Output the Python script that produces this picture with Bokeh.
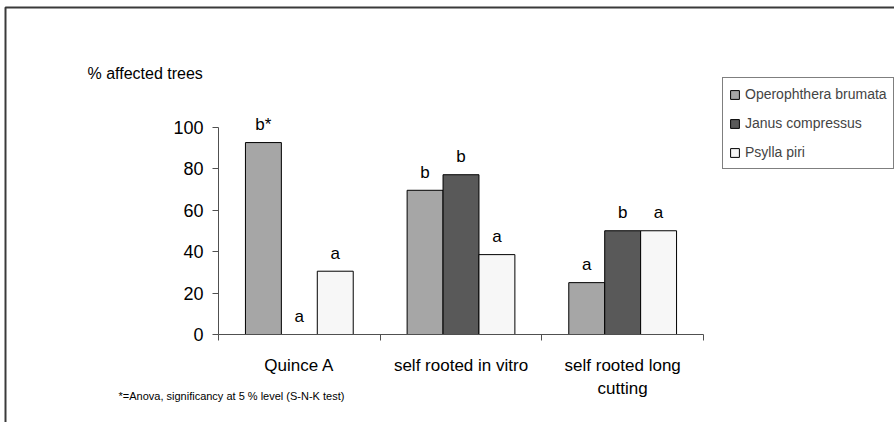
from bokeh.plotting import figure
from bokeh.models import (Range1d, FixedTicker, Label, Legend, LegendItem,
                          BoxAnnotation, ColumnDataSource, LinearAxis)
from bokeh.core.properties import value
from bokeh.embed import file_html
from bokeh.resources import INLINE
import numpy as np

# ---------------- data ----------------
categories = ["Quince A", "self rooted in vitro", "self rooted long\ncutting"]
series = ["Operophthera brumata", "Janus compressus", "Psylla piri"]
operophthera = [92.5, 69.5, 25.0]
janus = [0.0, 77.0, 50.0]
psylla = [30.5, 38.5, 50.0]
letters_operophthera = ["b*", "b", "a"]
letters_janus = ["a", "b", "b"]
letters_psylla = ["a", "a", "a"]
y_ticks = [0, 20, 40, 60, 80, 100]
y_title = "% affected trees"
footnote = "*=Anova, significancy at 5 % level (S-N-K test)"

# ---------------- layout (pixels) ----------------
FONT = "Liberation Sans"
colors = ["#a6a6a6", "#595959", "#f7f7f7"]
AX = "#505050"
W, H = 894, 422
PX_L, PX_R = 218, 703        # x axis extent on the page
PY0, PY100 = 334, 126.5      # y of value 0 and 100 on the page
ncat = len(categories)
xs_per = (PX_R - PX_L) / ncat
ys_per = (PY0 - PY100) / 100.0


def dx(px):
    return (px - PX_L) / xs_per


def dy(py):
    return (PY0 - py) / ys_per


p = figure(width=W, height=H, output_backend="svg", toolbar_location=None,
           x_range=Range1d(dx(0), dx(W)), y_range=Range1d(dy(H), dy(0)),
           x_axis_location=None, y_axis_location=None,
           min_border=0, min_border_left=0, min_border_right=0,
           min_border_top=0, min_border_bottom=0)
p.outline_line_color = None
p.xgrid.visible = False
p.ygrid.visible = False
p.background_fill_color = "white"
p.border_fill_color = "white"

# axes
yaxis = LinearAxis(fixed_location=0, bounds=(0, 100),
                   ticker=FixedTicker(ticks=y_ticks, minor_ticks=[]))
yaxis.major_tick_out = 6
yaxis.major_tick_in = 0
yaxis.minor_tick_out = 0
yaxis.minor_tick_in = 0
yaxis.major_label_standoff = 9
yaxis.major_label_text_font = FONT
yaxis.major_label_text_font_size = "18px"
yaxis.major_label_text_color = "black"
yaxis.axis_line_color = AX
yaxis.major_tick_line_color = AX
p.add_layout(yaxis, "left")

xaxis = LinearAxis(fixed_location=0, bounds=(0, ncat),
                   ticker=FixedTicker(ticks=list(range(ncat + 1)), minor_ticks=[]))
xaxis.major_tick_out = 6
xaxis.major_tick_in = 0
xaxis.minor_tick_out = 0
xaxis.minor_tick_in = 0
xaxis.major_label_text_color = None
xaxis.axis_line_color = AX
xaxis.major_tick_line_color = AX
p.add_layout(xaxis, "below")

# bars
values = [operophthera, janus, psylla]
letters = [letters_operophthera, letters_janus, letters_psylla]
n = len(series)
bw = 1.0 / (n + 1.5)
centers = np.arange(ncat) + 0.5
renderers = []
for i, (name, vals, lets, col) in enumerate(zip(series, values, letters, colors)):
    xs = centers + (i - (n - 1) / 2) * bw
    src = ColumnDataSource(dict(x=xs, top=vals, lab=lets))
    r = p.vbar(x="x", top="top", width=bw, bottom=0, source=src,
               fill_color=col, line_color="black", line_width=1)
    renderers.append(r)
    p.text(x="x", y="top", text="lab", source=src, text_align="center",
           text_baseline="middle", y_offset=-18, text_font=value(FONT),
           text_font_size="17px", text_color="black")

# category labels
for c, lbl in zip(centers, categories):
    for k, line in enumerate(lbl.split("\n")):
        p.add_layout(Label(x=c, y=dy(365 + 23 * k), text=line,
                           text_align="center", text_baseline="middle",
                           text_font=FONT, text_font_size="17px", text_color="black"))

# y title and footnote
p.add_layout(Label(x=dx(87), y=dy(73), text=y_title, text_align="left",
                   text_baseline="middle", text_font=FONT, text_font_size="16px",
                   text_color="black"))
p.add_layout(Label(x=dx(118), y=dy(395), text=footnote, text_align="left",
                   text_baseline="middle", text_font=FONT, text_font_size="11px",
                   text_color="black"))

# legend
legend = Legend(items=[LegendItem(label=s, renderers=[r]) for s, r in zip(series, renderers)],
                location=(722, H - 169), orientation="vertical",
                border_line_color="black", border_line_width=1,
                background_fill_color="white", background_fill_alpha=1,
                glyph_width=11, glyph_height=11, label_standoff=5,
                label_text_font=FONT, label_text_font_size="14px",
                label_height=20, spacing=9, padding=6, margin=0)
p.add_layout(legend)

# outer chart frame (extends past the right and bottom edges)
p.add_layout(BoxAnnotation(left=dx(5), right=dx(W + 50), top=dy(7), bottom=dy(H + 50),
                           fill_color=None, fill_alpha=0, line_color="#3a3a3a",
                           line_alpha=1, line_width=2))

open("out.html", "w").write(file_html(p, INLINE))
